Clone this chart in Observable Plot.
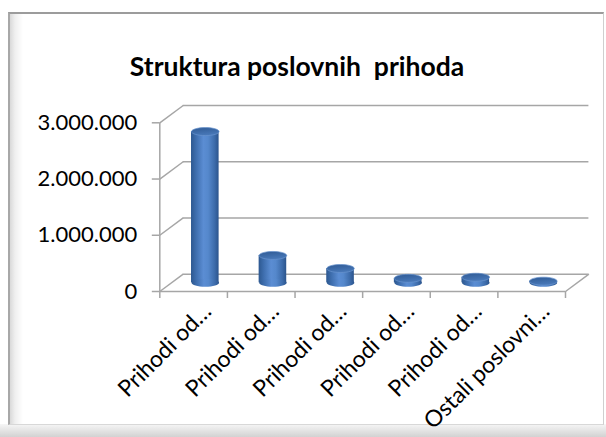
<!DOCTYPE html>
<html>
<head>
<meta charset="utf-8">
<script src="https://cdn.jsdelivr.net/npm/d3@7"></script>
<script src="https://cdn.jsdelivr.net/npm/@observablehq/plot@0.6"></script>
<style>
  html, body { margin: 0; padding: 0; background: #fff; }
  #wrap { position: relative; width: 606px; height: 437px; overflow: hidden; background: #fff; }
  #frame { position: absolute; left: 8px; top: 12px; width: 593px; height: 410px;
           border-top: 2px solid #9c9c9c; border-left: 2px solid #a8a8a8; border-right: 1px solid #cfcfcf; border-bottom: 1px solid #d8d8d8;
           background: linear-gradient(to right, #d9d9d9 0px, #efefef 5px, #ffffff 13px, #ffffff 100%); }
  #shadow { position: absolute; left: 0; top: 424px; width: 606px; height: 13px;
            background: linear-gradient(to bottom, #f6f6f6, #d2d2d2); }
  #title { position: absolute; left: 0; width: 594px; top: 50px; text-align: center;
           font-family: Lato, sans-serif; font-weight: bold; font-size: 26.5px; color: #000; white-space: pre; }
  #chart { position: absolute; left: 0; top: 0; }
</style>
</head>
<body>
<div id="wrap">
  <div id="shadow"></div>
  <div id="frame"></div>
  <div id="title">Struktura poslovnih  prihoda</div>
  <div id="chart"></div>
</div>
<script>
const categories = ["Prihodi od…", "Prihodi od…", "Prihodi od…", "Prihodi od…", "Prihodi od…", "Ostali poslovni…"];
const values = [2690000, 487000, 255000, 80000, 100000, 30000];
const yTicks = [0, 1000000, 2000000, 3000000];
const yTickLabels = ["0", "1.000.000", "2.000.000", "3.000.000"];

const W = 606, H = 437, mL = 159.3, mR = 41, mT = 122.3, mB = 146;
const DX = 23.4, DY = -17.3;          // depth offset in pixels
const xMax = categories.length, yMax = 3000000;
const depthX = DX * xMax / (W - mL - mR);
const depthY = -DY * yMax / (H - mT - mB);
const barHalf = 0.204;                 // half bar width (category units)
const RX = 13.8, RY = 4;
const grid = "#a6a6a6";

const data = categories.map((c, i) => ({c, i, v: values[i]}));

function ellipse(rx, ry) {
  const k = 0.5523;
  return {draw(ctx) {
    ctx.moveTo(rx, 0);
    ctx.bezierCurveTo(rx, ry * k, rx * k, ry, 0, ry);
    ctx.bezierCurveTo(-rx * k, ry, -rx, ry * k, -rx, 0);
    ctx.bezierCurveTo(-rx, -ry * k, -rx * k, -ry, 0, -ry);
    ctx.bezierCurveTo(rx * k, -ry, rx, -ry * k, rx, 0);
    ctx.closePath();
  }};
}

const defs = () => {
  const ns = "http://www.w3.org/2000/svg";
  const d = document.createElementNS(ns, "defs");
  d.innerHTML = `
    <linearGradient id="cyl" x1="0" x2="1" y1="0" y2="0">
      <stop offset="0" stop-color="#2d5890"/>
      <stop offset="0.18" stop-color="#3e6eae"/>
      <stop offset="0.45" stop-color="#5b8dd3"/>
      <stop offset="0.62" stop-color="#5588cc"/>
      <stop offset="0.85" stop-color="#3d6cab"/>
      <stop offset="1" stop-color="#2b548c"/>
    </linearGradient>
    <linearGradient id="top" x1="0" x2="0.3" y1="0" y2="1">
      <stop offset="0" stop-color="#2f5a94"/>
      <stop offset="1" stop-color="#4878b8"/>
    </linearGradient>`;
  return d;
};

const plot = Plot.plot({
  width: W, height: H,
  marginLeft: mL, marginRight: mR, marginTop: mT, marginBottom: mB,
  style: {background: "transparent", overflow: "visible"},
  x: {type: "linear", domain: [0, xMax], axis: null},
  y: {domain: [0, yMax], axis: null},
  marks: [
    defs,
    Plot.ruleY(yTicks, {x1: 0, x2: xMax, dx: DX, dy: DY, stroke: grid, strokeWidth: 1.5}),
    Plot.link(yTicks, {x1: 0, y1: d => d, x2: depthX, y2: d => d + depthY, stroke: grid, strokeWidth: 1.5}),
    Plot.link([0], {x1: xMax, y1: 0, x2: xMax + depthX, y2: depthY, stroke: grid, strokeWidth: 1.5}),
    Plot.ruleY([0], {x1: 0, x2: xMax, stroke: grid, strokeWidth: 1.5}),
    Plot.ruleX([0], {y1: 0, y2: yMax, stroke: grid, strokeWidth: 1.5}),
    Plot.axisX(d3.range(xMax + 1), {tickSize: 7, tickFormat: () => "", stroke: grid, strokeWidth: 1.5, label: null}),
    Plot.axisY(yTicks, {tickSize: 7.5, tickPadding: 15, tickFormat: d => yTickLabels[yTicks.indexOf(d)],
      stroke: grid, strokeWidth: 1.5, fill: "#000", fontSize: 22, fontFamily: "Lato, sans-serif", label: null}),
    Plot.rect(data, {x1: d => d.i + 0.5 - barHalf, x2: d => d.i + 0.5 + barHalf, y1: 0, y2: "v",
      dx: DX / 2, dy: DY / 2, fill: "url(#cyl)"}),
    Plot.dot(data, {x: d => d.i + 0.5, y: 0, dx: DX / 2, dy: DY / 2, symbol: ellipse(RX, RY), fill: "url(#cyl)", stroke: "none"}),
    Plot.dot(data, {x: d => d.i + 0.5, y: "v", dx: DX / 2, dy: DY / 2, symbol: ellipse(RX, RY), fill: "url(#top)", stroke: "#6893cf", strokeWidth: 0.7}),
    Plot.text(data, {x: d => d.i + 0.5, y: 0, text: "c", rotate: -45, textAnchor: "end", lineAnchor: "middle",
      dx: 14, dy: 16, fontSize: 23, fontFamily: "Lato, sans-serif", fill: "#000"})
  ]
});
document.getElementById("chart").appendChild(plot);
</script>
</body>
</html>
